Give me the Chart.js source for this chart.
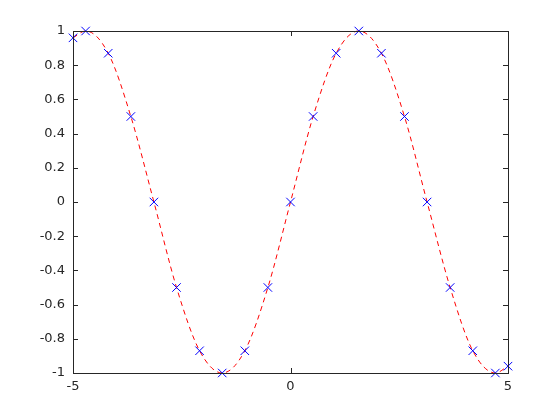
<!DOCTYPE html>
<html>
<head>
<meta charset="utf-8">
<script src="https://cdn.jsdelivr.net/npm/chart.js@4"></script>
<style>
  body { margin: 0; background: #fff; }
  canvas { display: block; }
</style>
</head>
<body>
<canvas id="grafico" width="560" height="420"></canvas>
<script>
// pontos medidos (marcadores x azuis)
const xs = [-5, -4.71, -4.19, -3.67, -3.14, -2.62, -2.09, -1.57, -1.05, -0.52, 0,
            0.52, 1.05, 1.57, 2.09, 2.62, 3.14, 3.67, 4.19, 4.71, 5];
const ys = [0.96, 1, 0.87, 0.5, 0, -0.5, -0.87, -1, -0.87, -0.5, 0,
            0.5, 0.87, 1, 0.87, 0.5, 0, -0.5, -0.87, -1, -0.96];
const xTicks = [-5, 0, 5];
const yTicks = [-1, -0.8, -0.6, -0.4, -0.2, 0, 0.2, 0.4, 0.6, 0.8, 1];

const pontos = xs.map((x, i) => ({ x: x, y: ys[i] }));
const corEixo = '#262626';

// caixa + ticks para dentro (estilo octave)
const moldura = {
    id: 'moldura',
    afterDraw(chart) {
        const { ctx, chartArea: a, scales } = chart;
        ctx.save();
        ctx.strokeStyle = corEixo;
        ctx.lineWidth = 1;
        ctx.strokeRect(a.left + 0.5, a.top + 0.5, a.right - a.left, a.bottom - a.top);
        ctx.beginPath();
        const L = 5;
        yTicks.forEach(v => {
            const p = Math.round(scales.y.getPixelForValue(v)) + 0.5;
            ctx.moveTo(a.left, p); ctx.lineTo(a.left + L, p);
            ctx.moveTo(a.right, p); ctx.lineTo(a.right - L, p);
        });
        xTicks.forEach(v => {
            const p = Math.round(scales.x.getPixelForValue(v)) + 0.5;
            ctx.moveTo(p, a.bottom); ctx.lineTo(p, a.bottom - L);
            ctx.moveTo(p, a.top); ctx.lineTo(p, a.top + L);
        });
        ctx.stroke();
        ctx.restore();
    }
};

const fmt = v => Number(Number(v).toFixed(1)).toString();

new Chart(document.getElementById('grafico'), {
    type: 'scatter',
    data: {
        datasets: [
            {
                data: pontos,
                pointStyle: 'crossRot',
                pointRadius: 6,
                borderColor: '#0000ff',
                backgroundColor: '#0000ff',
                borderWidth: 1,
                order: 1
            },
            {
                type: 'line',
                data: pontos,
                borderColor: '#ff0000',
                borderWidth: 1,
                borderDash: [5, 4],
                pointRadius: 0,
                cubicInterpolationMode: 'monotone',
                fill: false,
                order: 2
            }
        ]
    },
    options: {
        responsive: false,
        animation: false,
        clip: false,
        layout: { padding: { left: 0, top: 31, right: 52, bottom: 0 } },
        plugins: { legend: { display: false }, tooltip: { enabled: false } },
        scales: {
            x: {
                type: 'linear',
                min: -5, max: 5,
                afterBuildTicks: s => { s.ticks = xTicks.map(v => ({ value: v })); },
                afterFit: s => { s.height = 47; },
                grid: { display: false, drawTicks: false },
                border: { display: false },
                ticks: {
                    padding: 6,
                    color: corEixo,
                    font: { family: 'DejaVu Sans', size: 13 },
                    callback: fmt,
                    maxRotation: 0
                }
            },
            y: {
                type: 'linear',
                min: -1, max: 1,
                afterBuildTicks: s => { s.ticks = yTicks.map(v => ({ value: v })); },
                afterFit: s => { s.width = 73; },
                grid: { display: false, drawTicks: false },
                border: { display: false },
                ticks: {
                    padding: 8,
                    color: corEixo,
                    font: { family: 'DejaVu Sans', size: 13 },
                    callback: fmt
                }
            }
        }
    },
    plugins: [moldura]
});
</script>
</body>
</html>
